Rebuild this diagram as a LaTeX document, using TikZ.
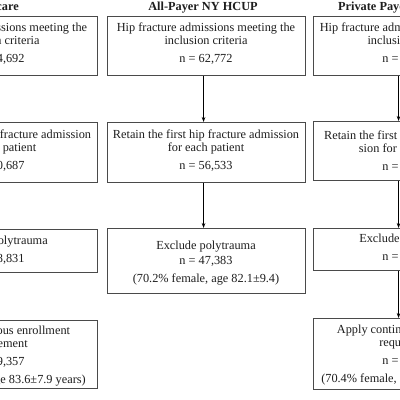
\documentclass[tikz,border=0pt]{standalone}
\usepackage{fontspec}
\setmainfont{Liberation Serif}
\usetikzlibrary{arrows.meta}
\definecolor{boxgray}{HTML}{4A4A4A}
\definecolor{txtcol}{HTML}{1E1E1E}
\newcommand\fsz{\fontsize{12.3}{13}\selectfont}
\tikzset{
  flowbox/.style={draw=boxgray, line width=1.1pt, rectangle, inner sep=0pt,
    anchor=north west, minimum width=198pt},
  boxtxt/.style={align=center, inner sep=0pt, anchor=north, font=\fsz, text=txtcol},
  coltitle/.style={font=\fsz\bfseries, inner sep=0pt, text=txtcol},
  flowarr/.style={-{Stealth[length=5pt,width=3.6pt]}, line width=0.8pt, draw=black}
}
\begin{document}
\begin{tikzpicture}[x=1pt,y=1pt]
\useasboundingbox (0,-400) rectangle (400,0);
\fill[white] (0,-400) rectangle (400,0);
\clip (0,-400) rectangle (400,0);

% column titles
\node[coltitle, anchor=base east] (tL) at (19,-10) {Medicare};
\node[coltitle, anchor=base] (tM) at (203,-10) {All-Payer NY HCUP};
\node[coltitle, anchor=base west] (tR) at (338,-10) {Private Payer};

% left column boxes
\node[flowbox, minimum height=59pt] (L1) at (-101,-16) {};
\node[flowbox, minimum height=60pt] (L2) at (-101,-122) {};
\node[flowbox, minimum height=43pt] (L3) at (-101,-229) {};
\node[flowbox, minimum height=68pt] (L4) at (-101,-320) {};
% middle column boxes
\node[flowbox, minimum height=59pt] (M1) at (107,-16) {};
\node[flowbox, minimum height=60pt] (M2) at (107,-122) {};
\node[flowbox, minimum height=65pt] (M3) at (107,-228) {};
% right column boxes
\node[flowbox, minimum height=59pt] (R1) at (313,-16) {};
\node[flowbox, minimum height=59pt] (R2) at (313,-121) {};
\node[flowbox, minimum height=42pt] (R3) at (313,-228) {};
\node[flowbox, minimum height=71pt] (R4) at (313,-318) {};

% texts
\node[boxtxt] (L1t) at (-2,-22.5) {Hip fracture admissions meeting the\\ inclusion criteria\\[5pt] n = 84,692};
\node[boxtxt] (L2t) at (-2,-129.5) {Retain the first hip fracture admission\\ for each patient\\[5pt] n = 70,687};
\node[boxtxt] (L3t) at (-2,-235.5) {Exclude polytrauma\\[5pt] n = 58,831};
\node[boxtxt] (L4t) at (-2,-325.5) {Apply continuous enrollment\\ requirement\\[5pt] n = 39,357\\[5pt] (71.8\% female, age 83.6±7.9 years)};

\node[boxtxt] (M1t) at (206,-22.5) {Hip fracture admissions meeting the\\ inclusion criteria\\[5pt] n = 62,772};
\node[boxtxt] (M2t) at (206,-129.5) {Retain the first hip fracture admission\\ for each patient\\[5pt] n = 56,533};
\node[boxtxt] (M3t) at (206,-240.5) {Exclude polytrauma\\[2pt] n = 47,383\\[5pt] (70.2\% female, age 82.1±9.4)};

\node[boxtxt] (R1t) at (409,-22.5) {Hip fracture admissions meeting the\\ inclusion criteria\\[5pt] n = 45,218};
\node[boxtxt] (R2t) at (409,-130.5) {Retain the first hip fracture admis-\\ sion for each patient\\[5pt] n = 40,105};
\node[boxtxt] (R3t) at (409,-233.5) {Exclude polytrauma\\[5pt] n = 33,870};
\node[boxtxt] (R4t) at (409,-324.5) {Apply continuous enrollment\\ requirement\\[5pt] n = 21,406\\[5pt] (70.4\% female, age 80.9±8.6 years)};

% connectors
\draw[flowarr] ([xshift=-3pt]L1.south) -- ([xshift=-3pt]L2.north);
\draw[flowarr] ([xshift=-3pt]L2.south) -- ([xshift=-3pt]L3.north);
\draw[flowarr] ([xshift=-3pt]L3.south) -- ([xshift=-3pt]L4.north);
\draw[flowarr] ([xshift=-3pt]M1.south) -- ([xshift=-3pt]M2.north);
\draw[flowarr] ([xshift=-3pt]M2.south) -- ([xshift=-3pt]M3.north);
\draw[flowarr] ([xshift=-14pt]R1.south) -- ([xshift=-14pt]R2.north);
\draw[flowarr] ([xshift=-14pt]R2.south) -- ([xshift=-14pt]R3.north);
\draw[flowarr] ([xshift=-14pt]R3.south) -- ([xshift=-14pt]R4.north);
\end{tikzpicture}
\end{document}
